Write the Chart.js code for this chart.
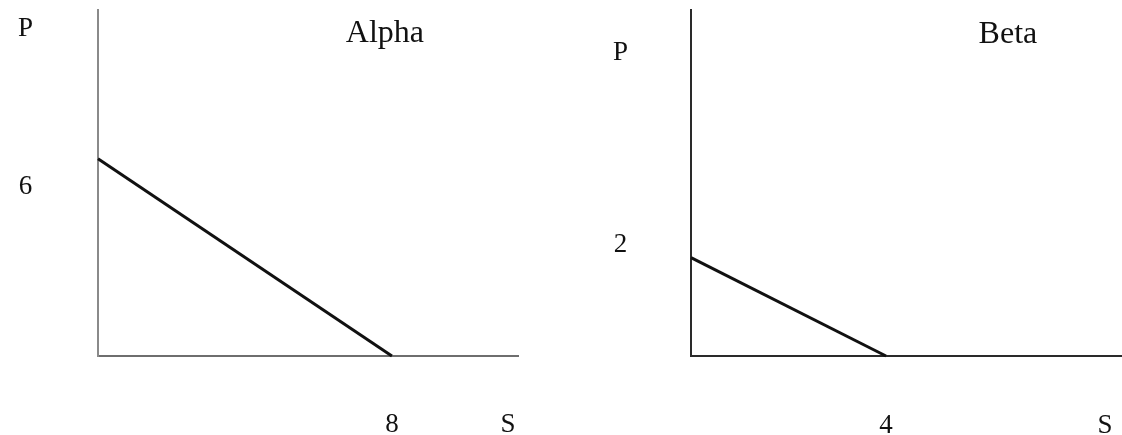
<!DOCTYPE html>
<html>
<head>
<meta charset="utf-8">
<script src="https://cdn.jsdelivr.net/npm/chart.js@4.4.1/dist/chart.umd.min.js"></script>
<style>
  html, body { margin: 0; padding: 0; background: #fff; }
  body { width: 1122px; height: 435px; position: relative; overflow: hidden; }
  .panel { position: absolute; top: 0; height: 435px; }
</style>
</head>
<body>
<div class="panel" style="left:0;width:519px"><canvas id="alpha" width="519" height="435"></canvas></div>
<div class="panel" style="left:561px;width:561px"><canvas id="beta" width="561" height="435"></canvas></div>
<script>
// Alpha market
const alphaS = [0, 8];
const alphaP = [7, 0];
const alphaXTicks = [8, 11.16];
const alphaXLabels = ['8', 'S'];
const alphaYTicks = [6, 11.6];
const alphaYLabels = ['6', 'P'];

// Beta market
const betaS = [0, 4];
const betaP = [1.77, 0];
const betaXTicks = [4, 8.49];
const betaXLabels = ['4', 'S'];
const betaYTicks = [2, 5.45];
const betaYLabels = ['2', 'P'];

const serif = '"Liberation Serif", "Times New Roman", serif';

// draws the panel name inside the plot, placed through the scales
const panelTitle = {
  id: 'panelTitle',
  afterDraw(chart, args, opts) {
    const ctx = chart.ctx;
    ctx.save();
    ctx.font = '32px ' + serif;
    ctx.fillStyle = '#111';
    ctx.textAlign = 'center';
    ctx.textBaseline = 'alphabetic';
    ctx.fillText(opts.text, chart.scales.x.getPixelForValue(opts.x), chart.scales.y.getPixelForValue(opts.y));
    ctx.restore();
  }
};

function axis(o) {
  return {
    type: 'linear',
    position: o.position,
    min: 0,
    max: o.max,
    grid: { display: false },
    border: { display: true, color: o.color, width: 2 },
    ticks: {
      autoSkip: false,
      padding: o.padding,
      crossAlign: 'center',
      maxRotation: 0,
      color: '#111',
      font: { family: serif, size: 27 },
      callback: (v) => {
        const i = o.ticks.indexOf(v);
        return i >= 0 ? o.labels[i] : '';
      }
    },
    afterBuildTicks: (scale) => {
      scale.ticks = o.ticks.map(v => ({ value: v }));
    },
    afterFit: (scale) => {
      if (scale.isHorizontal()) scale.height = o.size;
      else scale.width = o.size;
      scale.paddingTop = scale.paddingBottom = scale.paddingLeft = scale.paddingRight = 0;
    }
  };
}

function makeChart(id, c) {
  return new Chart(document.getElementById(id), {
    type: 'scatter',
    data: {
      datasets: [{
        label: c.title,
        data: c.s.map((s, i) => ({ x: s, y: c.p[i] })),
        showLine: true,
        borderColor: '#111',
        borderWidth: 3,
        pointRadius: 0,
        clip: false
      }]
    },
    options: {
      responsive: false,
      animation: false,
      layout: { padding: { top: 10, right: 0, bottom: 0, left: 0 } },
      plugins: {
        legend: { display: false },
        tooltip: { enabled: false },
        panelTitle: { text: c.title, x: c.titleX, y: c.titleY }
      },
      scales: {
        x: axis({ position: 'bottom', max: c.xMax, ticks: c.xTicks, labels: c.xLabels,
                  size: 79, padding: c.xPad, color: c.xColor }),
        y: axis({ position: 'left', max: c.yMax, ticks: c.yTicks, labels: c.yLabels,
                  size: c.yWidth, padding: c.yPad, color: c.yColor })
      }
    },
    plugins: [panelTitle]
  });
}

makeChart('alpha', {
  title: 'Alpha', titleX: 7.81, titleY: 11.15,
  s: alphaS, p: alphaP,
  xMax: 11.46, xTicks: alphaXTicks, xLabels: alphaXLabels, xPad: 61, xColor: '#6e6e6e',
  yMax: 12.28, yTicks: alphaYTicks, yLabels: alphaYLabels, yPad: 57, yColor: '#8a8a8a',
  yWidth: 98
});

makeChart('beta', {
  title: 'Beta', titleX: 6.5, titleY: 5.64,
  s: betaS, p: betaP,
  xMax: 8.84, xTicks: betaXTicks, xLabels: betaXLabels, xPad: 62, xColor: '#2a2a2a',
  yMax: 6.23, yTicks: betaYTicks, yLabels: betaYLabels, yPad: 55, yColor: '#2a2a2a',
  yWidth: 130
});
</script>
</body>
</html>
